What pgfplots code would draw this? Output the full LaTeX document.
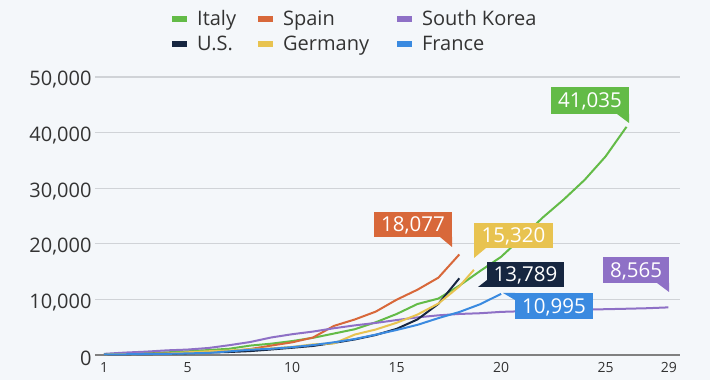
\documentclass[border=0pt]{standalone}
\usepackage{pgfplots}
\pgfplotsset{compat=1.18}
\usepackage{fontspec}
\setmainfont{Open Sans}
\definecolor{bg}{RGB}{244,247,250}
\definecolor{cItaly}{RGB}{99,187,71}
\definecolor{cSpain}{RGB}{216,104,58}
\definecolor{cKorea}{RGB}{142,112,198}
\definecolor{cUS}{RGB}{22,38,64}
\definecolor{cGermany}{RGB}{232,195,80}
\definecolor{cFrance}{RGB}{58,138,224}
\definecolor{gridc}{RGB}{208,211,215}
\definecolor{axisc}{RGB}{128,128,128}
\definecolor{txt}{RGB}{51,51,51}
\newcommand{\cf}{\fontsize{20.5}{24}\selectfont}

\pgfplotstableread{
x y
1 157
2 229
3 323
4 470
5 655
6 889
7 1128
8 1694
9 2036
10 2502
11 3089
12 3858
13 4636
14 5883
15 7375
16 9172
17 10149
18 12462
19 15113
20 17660
21 21157
22 24747
23 27980
24 31506
25 35713
26 41035
}\italy

\pgfplotstableread{
x y
1 120
2 165
3 222
4 259
5 400
6 500
7 673
8 1073
9 1695
10 2277
11 3146
12 5232
13 6391
14 7798
15 9942
16 11748
17 13910
18 18077
}\spain

\pgfplotstableread{
x y
1 204
2 433
3 602
4 833
5 977
6 1261
7 1766
8 2337
9 3150
10 3736
11 4212
12 4812
13 5328
14 5766
15 6284
16 6767
17 7134
18 7382
19 7513
20 7755
21 7869
22 7979
23 8086
24 8162
25 8236
26 8320
27 8413
28 8565
}\korea

\pgfplotstableread{
x y
1 100
2 124
3 158
4 221
5 319
6 435
7 541
8 704
9 994
10 1301
11 1630
12 2183
13 2800
14 3600
15 4700
16 6400
17 9200
18 13789
}\us

\pgfplotstableread{
x y
1 130
2 159
3 196
4 262
5 482
6 670
7 799
8 1040
9 1176
10 1457
11 1908
12 2078
13 3675
14 4585
15 5795
16 7272
17 9257
18 12327
18.7 15320
}\germany

\pgfplotstableread{
x y
1 100
2 130
3 191
4 204
5 285
6 377
7 653
8 949
9 1126
10 1412
11 1784
12 2281
13 2876
14 3661
15 4499
16 5423
17 6633
18 7730
19 9134
20 10995
}\france

\begin{document}
\begin{tikzpicture}[x=1pt,y=1pt]
\fill[bg] (0,0) rectangle (710,380);
\begin{axis}[
  at={(95pt,25pt)}, anchor=south west,
  scale only axis, width=585pt, height=278pt,
  xmin=0.569, xmax=28.56, ymin=0, ymax=50000,
  axis line style={draw=none},
  major tick length=0pt,
  xtick={1,5,10,15,20,25,28.03},
  xticklabels={1,5,10,15,20,25,29},
  xticklabel style={font=\fontsize{14}{16}\selectfont, text=txt, yshift=-4pt},
  ytick={10000,20000,30000,40000,50000},
  extra y ticks={0},
  extra y tick style={grid style={axisc, line width=1.5pt}},
  ymajorgrids,
  grid style={gridc, line width=1.2pt},
  yticklabel style={font=\fontsize{20}{24}\selectfont, text=txt, yshift=-3pt},
  /pgf/number format/.cd, 1000 sep={,}, assume math mode=true,
  /pgfplots/.cd,
  scaled y ticks=false,
  clip=false,
  legend columns=3,
  legend cell align=left,
  legend image code/.code={\draw[#1, line width=6pt] (0pt,0pt) -- (15pt,0pt);},
  legend style={draw=none, fill=none, at={(0.1265,1.241)}, anchor=north west,
    font=\fontsize{20}{24}\selectfont, text=txt, inner sep=0pt,
    nodes={inner sep=0pt},
    row sep=9pt,
    /tikz/column 1/.style={column sep=7pt},
    /tikz/column 2/.style={column sep=19pt},
    /tikz/column 3/.style={column sep=7pt},
    /tikz/column 4/.style={column sep=25pt},
    /tikz/column 5/.style={column sep=7pt}},
  every axis plot/.append style={line width=2pt, line join=round, no markers},
]
\addplot[cItaly] table {\italy};
\addlegendentry{Italy}
\addplot[cSpain] table {\spain};
\addlegendentry{Spain}
\addplot[cKorea] table {\korea};
\addlegendentry{South Korea}
\addplot[cUS] table {\us};
\addlegendentry{U.S.}
\addplot[cGermany] table {\germany};
\addlegendentry{Germany}
\addplot[cFrance] table {\france};
\addlegendentry{France}
\end{axis}
\tikzset{cl/.style={text=white, font=\cf, inner sep=0pt, text height=14.5pt, text depth=0pt}}
% Italy
\fill[cItaly] (551,293) rectangle (629,266);
\fill[cItaly] (617,266) -- (629,266) -- (629,257) -- cycle;
\node[cl] at (590,279.5) {41,035};
% Spain
\fill[cSpain] (374,168) rectangle (452,143);
\fill[cSpain] (440,143) -- (452,143) -- (452,133) -- cycle;
\node[cl] at (413,155.5) {18,077};
% Germany
\fill[cGermany] (474,157) rectangle (553,132);
\fill[cGermany] (474,132) -- (486,132) -- (474,122) -- cycle;
\node[cl] at (513.5,144.5) {15,320};
% US
\fill[cUS] (487,118) rectangle (564,93);
\fill[cUS] (487,100) -- (487,93) -- (478,93) -- cycle;
\node[cl] at (525.5,105.5) {13,789};
% France
\fill[cFrance] (515,87) rectangle (593,61);
\fill[cFrance] (503,87) -- (515,87) -- (515,80) -- cycle;
\node[cl] at (554,74) {10,995};
% South Korea
\fill[cKorea] (603,123) rectangle (669,97);
\fill[cKorea] (657,97) -- (669,97) -- (669,88) -- cycle;
\node[cl] at (636,110) {8,565};
\end{tikzpicture}
\end{document}
